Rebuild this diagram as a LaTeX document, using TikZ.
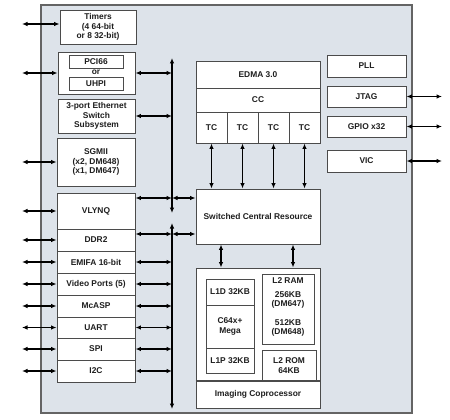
\documentclass[tikz,border=0pt]{standalone}
\usepackage{fontspec}
\setmainfont{Liberation Sans}
\usetikzlibrary{arrows.meta}
\definecolor{bg}{RGB}{221,227,234}
\definecolor{ln}{RGB}{75,75,75}
\definecolor{ol}{RGB}{100,100,100}
\definecolor{tx}{RGB}{30,30,30}
\begin{document}
\begin{tikzpicture}[x=1pt,y=-1pt,
 bx/.style={draw=ln, fill=white, line width=0.9pt, inner sep=0pt, align=center, text=tx, font=\bfseries\fontsize{8.4}{9.4}\selectfont},
 lbl/.style={inner sep=0pt, align=center, text=tx, font=\bfseries\fontsize{8.4}{9.8}\selectfont},
 dbl/.style={{Latex[length=5.5pt,width=4.5pt]}-{Latex[length=5.5pt,width=4.5pt]}, line width=1.2pt, black},
]
\useasboundingbox (0,0) rectangle (450,420);
% chip outline
\node[draw=ol, fill=bg, line width=1.2pt, inner sep=0pt, minimum width=371pt, minimum height=408pt] (chip) at (226.5,209) {};
\coordinate (lx) at (22,0);
\coordinate (rx) at (442,0);
% left column
\node[bx, minimum width=76pt, minimum height=34pt] (timers) at (98,27) {Timers\\(4 64-bit\\or 8 32-bit)};
\node[bx, minimum width=77pt, minimum height=42pt] (pci) at (96.5,73) {};
\node[bx, minimum width=54pt, minimum height=13pt] (pci66) at (96,61.5) {PCI66};
\node[lbl] (or) at (96,72) {or};
\node[bx, minimum width=54pt, minimum height=13pt] (uhpi) at (96,83.5) {UHPI};
\node[bx, minimum width=77pt, minimum height=34pt] (eth) at (96.5,116) {3-port Ethernet\\Switch\\Subsystem};
\node[bx, minimum width=78pt, minimum height=48pt] (sgmii) at (96,162) {SGMII\\(x2, DM648)\\(x1, DM647)};
\node[bx, minimum width=78pt, minimum height=36pt] (vlynq) at (96,211) {VLYNQ};
\node[bx, minimum width=78pt, minimum height=22pt] (ddr) at (96,240) {DDR2};
\node[bx, minimum width=78pt, minimum height=22pt] (emifa) at (96,262) {EMIFA 16-bit};
\node[bx, minimum width=78pt, minimum height=22pt] (video) at (96,284) {Video Ports (5)};
\node[bx, minimum width=78pt, minimum height=22pt] (mcasp) at (96,306) {McASP};
\node[bx, minimum width=78pt, minimum height=21pt] (uart) at (96,327.5) {UART};
\node[bx, minimum width=78pt, minimum height=22pt] (spi) at (96,349) {SPI};
\node[bx, minimum width=78pt, minimum height=22pt] (iic) at (96,371) {I2C};
% EDMA
\node[bx, minimum width=124pt, minimum height=27pt] (edma) at (258,74.5) {EDMA 3.0};
\node[bx, minimum width=124pt, minimum height=24pt] (cc) at (258,100) {CC};
\foreach \i/\x in {1/211.5,2/242.5,3/273.5,4/304.5}
  \node[bx, minimum width=31pt, minimum height=31pt] (tc\i) at (\x,127.5) {TC};
% SCR
\node[bx, minimum width=124pt, minimum height=55pt] (scr) at (258,216.5) {Switched Central Resource};
% Imaging
\node[bx, minimum width=124pt, minimum height=140pt] (img) at (258,338) {};
\node[bx, minimum width=124pt, minimum height=27pt] (icp) at (258,394.5) {Imaging Coprocessor};
\node[bx, minimum width=48pt, minimum height=26pt] (l1d) at (230,292) {L1D 32KB};
\node[bx, minimum width=48pt, minimum height=43pt] (c64) at (230,326.5) {C64x+\\Mega};
\node[bx, minimum width=48pt, minimum height=25pt] (l1p) at (230,360.5) {L1P 32KB};
\node[bx, minimum width=52pt, minimum height=70pt] (l2ram) at (288,309) {};
\node[lbl] (l2t) at (288,281) {L2 RAM};
\node[lbl] (l2a) at (288,300) {256KB\\(DM647)};
\node[lbl] (l2b) at (288,328) {512KB\\(DM648)};
\node[bx, minimum width=54pt, minimum height=31pt] (l2rom) at (289,365.5) {L2 ROM\\64KB};
\draw[draw=ln, line width=0.9pt] (icp.north west) -- (icp.north east);
% right column
\node[bx, minimum width=79pt, minimum height=22pt] (pll) at (366.5,66) {PLL};
\node[bx, minimum width=79pt, minimum height=21pt] (jtag) at (366.5,96.5) {JTAG};
\node[bx, minimum width=79pt, minimum height=21pt] (gpio) at (366.5,126.5) {GPIO x32};
\node[bx, minimum width=79pt, minimum height=22pt] (vic) at (366.5,161) {VIC};
% bus
\coordinate (bt) at (172,58);
\coordinate (bm1) at (172,213);
\coordinate (bm2) at (172,223);
\coordinate (bb) at (172,409);
\draw[dbl] (bt) -- (bm1);
\draw[dbl] (bm2) -- (bb);
% left external arrows
\path ([yshift=3pt]timers.west) coordinate (tw);
\draw[dbl] (tw -| lx) -- (tw);
\foreach \n in {pci,sgmii,vlynq,ddr,emifa,video,mcasp,uart,spi,iic}
  \draw[dbl] (\n.west -| lx) -- (\n.west);
% to bus
\foreach \n in {pci,eth,emifa,video,mcasp,uart,spi,iic}
  \draw[dbl] (\n.east) -- (\n.east -| bt);
\path ([yshift=13pt]vlynq.east) coordinate (vq);
\path ([yshift=6pt]ddr.east) coordinate (dq);
\draw[dbl] (vq) -- (vq -| bt);
\draw[dbl] (vq -| bt) -- (vq -| scr.west);
\draw[dbl] (dq) -- (dq -| bt);
\draw[dbl] (dq -| bt) -- (dq -| scr.west);
% TC to SCR
\foreach \i in {1,2,3,4}
  \draw[dbl] (tc\i.south) -- (tc\i.south |- scr.north);
% SCR to imaging
\draw[dbl] ([xshift=-37pt]scr.south) -- ([xshift=-37pt]img.north);
\draw[dbl] ([xshift=35pt]scr.south) -- ([xshift=35pt]img.north);
% right external arrows
\foreach \n in {jtag,gpio,vic}
  \draw[dbl] (\n.east) -- (\n.east -| rx);
\end{tikzpicture}
\end{document}
